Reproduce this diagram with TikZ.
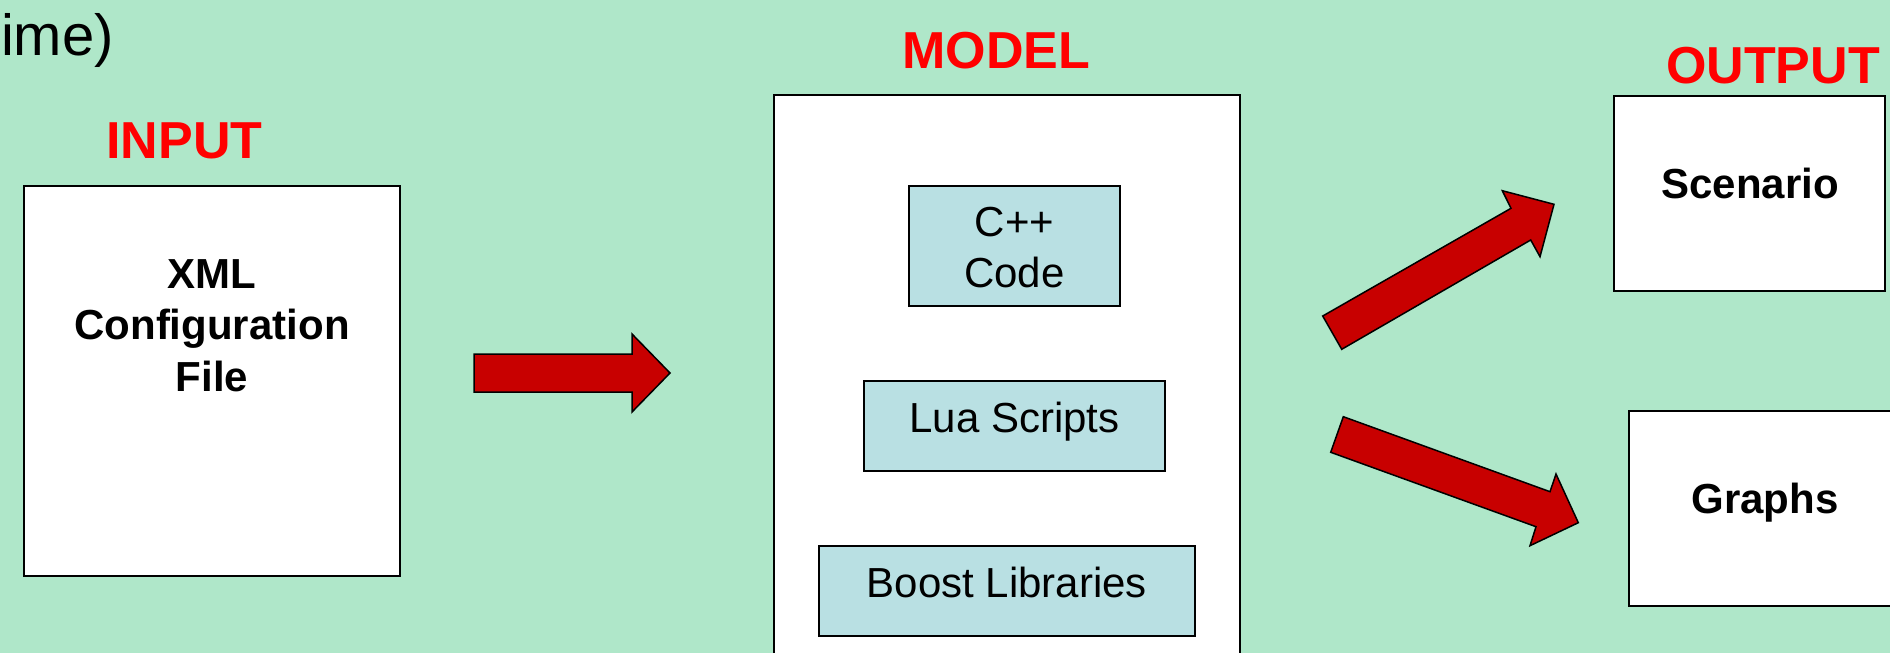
\documentclass[tikz,border=0pt]{standalone}
\usepackage{fontspec}
\setmainfont{Liberation Sans}
\definecolor{bg}{RGB}{175,231,201}
\definecolor{libox}{RGB}{185,224,227}
\definecolor{arrowred}{RGB}{200,0,0}
\definecolor{titlered}{RGB}{255,0,0}
\tikzset{
  framebox/.style={draw=black, line width=2pt, fill=white, inner sep=0pt, minimum width=#1},
  bluebox/.style={draw=black, line width=2pt, fill=libox, inner sep=0pt, minimum width=#1},
  titletext/.style={inner sep=0pt, anchor=base, text=titlered, font=\fontsize{52}{60}\selectfont\bfseries},
  boldtext/.style={inner sep=0pt, anchor=base, align=center, font=\fontsize{42}{51.5}\selectfont\bfseries},
  plaintext/.style={inner sep=0pt, anchor=base, align=center, font=\fontsize{42}{51}\selectfont},
  blockarrow/.style={fill=arrowred, draw=black, line width=1.5pt, line join=miter}
}
\begin{document}
\begin{tikzpicture}[x=1pt,y=-1pt]
  \useasboundingbox (0,0) rectangle (1890,653);
  \fill[bg] (0,0) rectangle (1890,653);
  \clip (0,0) rectangle (1890,653);

  % top-left fragment of a heading
  \node[inner sep=0pt, anchor=base east, font=\fontsize{58}{66}\selectfont] (fragment) at (114,55) {ime)};

  % titles
  \node[titletext] (inputtitle) at (184.5,158) {INPUT};
  \node[titletext] (modeltitle) at (996.5,68) {MODEL};
  \node[titletext] (outputtitle) at (1773,83) {OUTPUT};

  % input box (multi-line text: base anchor is the last line's baseline)
  \node[framebox=376pt, minimum height=390pt] (inputbox) at (212,381) {};
  \node[boldtext] (inputtext) at (212,391) {XML\\Configuration\\File};

  % model box
  \node[framebox=466pt, minimum height=605pt] (modelbox) at (1007,397.5) {};
  \node[bluebox=211pt, minimum height=120pt] (cppbox) at (1014.5,246) {};
  \node[plaintext] (cpptext) at (1014.5,287) {C++\\Code};
  \node[bluebox=301pt, minimum height=90pt] (luabox) at (1014.5,426) {};
  \node[plaintext] (luatext) at (1014.5,432) {Lua Scripts};
  \node[bluebox=376pt, minimum height=90pt] (boostbox) at (1007,591) {};
  \node[plaintext] (boosttext) at (1007,597) {Boost Libraries};

  % output boxes
  \node[framebox=271pt, minimum height=195pt] (scenariobox) at (1749.5,193.5) {};
  \node[boldtext] (scenariotext) at (1750,198) {Scenario};
  \node[framebox=272pt, minimum height=195pt] (graphsbox) at (1765,508.5) {};
  \node[boldtext] (graphstext) at (1765,513) {Graphs};

  % block arrows
  \draw[blockarrow] (474,354) -- (632,354) -- (632,334) -- (670,373) -- (632,412) -- (632,392) -- (474,392) -- cycle;
  \draw[blockarrow] (1322.7,316) -- (1511,208.3) -- (1502.3,190.7) -- (1554,204.3) -- (1540,256.7) -- (1530.7,240) -- (1341.7,349.3) -- cycle;
  \draw[blockarrow] (1343.3,416.7) -- (1550,491.7) -- (1556,474) -- (1578.3,522.7) -- (1530,545.7) -- (1536,526.7) -- (1330.7,452.3) -- cycle;
\end{tikzpicture}
\end{document}
